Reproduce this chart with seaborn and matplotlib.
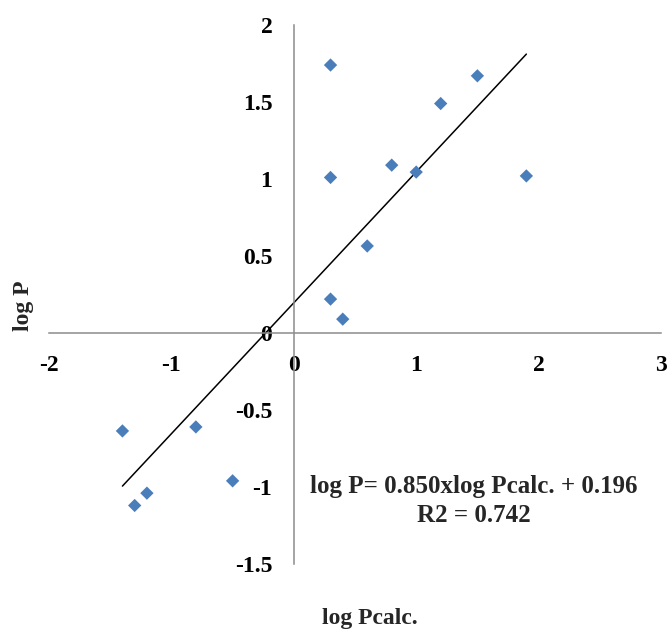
import matplotlib
matplotlib.use("Agg")
import matplotlib.pyplot as plt
import seaborn as sns
import numpy as np
import pandas as pd

# Calculated vs. experimental partition coefficients
log_pcalc = [0.3, 1.5, 1.2, 0.8, 1.0, 0.3, 1.9, 0.6, 0.3, 0.4,
             -1.4, -0.8, -0.5, -1.2, -1.3]
log_p = [1.74, 1.67, 1.49, 1.09, 1.045, 1.01, 1.02, 0.565, 0.22, 0.09,
         -0.636, -0.61, -0.96, -1.04, -1.12]

slope = 0.850
intercept = 0.196
r2 = 0.742

x_ticks = [-2, -1, 0, 1, 2, 3]
y_ticks = [-1.5, -1, -0.5, 0, 0.5, 1, 1.5, 2]

sns.set_style("white")
plt.rcParams["font.family"] = ["Liberation Serif", "DejaVu Serif"]
plt.rcParams["font.weight"] = "bold"

FS = 17

df = pd.DataFrame({"log Pcalc.": log_pcalc, "log P": log_p})

fig = plt.figure(figsize=(6.68, 6.35), dpi=100)
ax = fig.add_axes([49 / 668, 71 / 635, 612 / 668, 539 / 635])

sns.scatterplot(data=df, x="log Pcalc.", y="log P", ax=ax, marker="D",
                s=46, color="#4A7EBB", edgecolor="none", zorder=3)

# least-squares trend line over the range of the data
xfit = np.array([min(log_pcalc), max(log_pcalc)])
ax.plot(xfit, slope * xfit + intercept, color="black", lw=1.1, zorder=2)

ax.set_xlim(-2, 3)
ax.set_ylim(-1.5, 2)
ax.set_xticks(x_ticks)
ax.set_yticks(y_ticks)
ax.set_xticklabels([f"{v:g}" for v in x_ticks])
ax.set_yticklabels([f"{v:g}" for v in y_ticks])

for side in ("top", "right"):
    ax.spines[side].set_visible(False)
ax.spines["left"].set_position(("data", 0))
ax.spines["bottom"].set_position(("data", 0))
for side in ("left", "bottom"):
    ax.spines[side].set_color("#8C8C8C")
    ax.spines[side].set_linewidth(1.1)

ax.tick_params(axis="both", direction="out", length=5, width=1.1,
               color="#8C8C8C", labelsize=FS, labelcolor="black")
ax.tick_params(axis="x", pad=11)
ax.tick_params(axis="y", pad=10.5)
for lbl in ax.get_xticklabels() + ax.get_yticklabels():
    lbl.set_fontweight("bold")

ax.set_xlabel("log Pcalc.", fontsize=FS, fontweight="bold")
ax.set_ylabel("log P", fontsize=FS, fontweight="bold")
ax.xaxis.set_label_coords(0.524, -0.082)
ax.yaxis.set_label_coords(-0.024, 0.48)

ax.text(1.47, -1.09, f"log P= {slope:.3f}xlog Pcalc. + {intercept:.3f}\nR2 = {r2:.3f}",
        ha="center", va="center", fontsize=18, fontweight="bold",
        linespacing=1.3, transform=ax.transData)

fig.savefig("out.png", dpi=100)
